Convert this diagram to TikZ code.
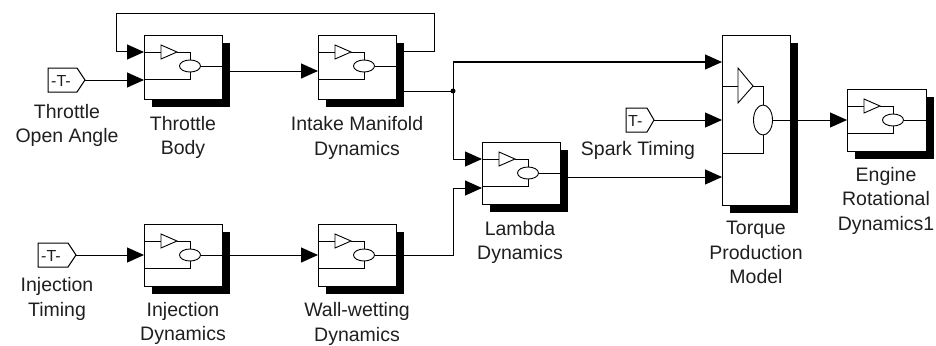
\documentclass[tikz,border=0pt]{standalone}
\usepackage{fontspec}
\setmainfont{Liberation Sans}
\usetikzlibrary{arrows.meta,calc}

\tikzset{
  wire/.style={line width=1pt, line join=miter},
  sig/.style={wire, -{Triangle[length=17pt,width=15pt]}},
  blk/.style={draw, line width=1.1pt, fill=white, inner sep=0pt, anchor=north west},
  shadowbox/.style={fill=black},
  icon/.style={line width=0.9pt},
  lbl/.style={font=\fontsize{19.5}{24.5}\selectfont, align=center, inner sep=0pt, anchor=north, text=black!88},
  tagtext/.style={font=\fontsize{16}{16}\selectfont, inner sep=0pt, anchor=base west, text=black!88},
  tagbox/.style={draw, line width=1pt, fill=white},
  jdot/.style={circle, fill=black, inner sep=0pt, minimum size=5pt}
}

% subsystem block: name, left, top, width, height
\newcommand{\subsysblk}[5]{%
  \fill[shadowbox] (#2+8,#3+8) rectangle (#2+#4+8,#3+#5+8);
  \node[blk, minimum width=#4 pt, minimum height=#5 pt] (#1) at (#2,#3) {};
}
% standard icon inside a small block: left, top, width
\newcommand{\smallicon}[3]{%
  \draw[icon] (#1,#2+17) -- (#1+17,#2+17);
  \draw[icon] (#1+17,#2+10) -- (#1+33,#2+17) -- (#1+17,#2+24) -- cycle;
  \draw[icon] (#1+33,#2+17) -- (#1+46,#2+17) -- (#1+46,#2+25);
  \draw[icon] (#1+46,#2+31) ellipse [x radius=10.5, y radius=6];
  \draw[icon] (#1+56.5,#2+31) -- (#1+#3,#2+31);
  \draw[icon] (#1+46,#2+37) -- (#1+46,#2+44) -- (#1,#2+44);
}

\begin{document}
\begin{tikzpicture}[x=1pt, y=-1pt]
\useasboundingbox (0,0) rectangle (936,345);

% ---- blocks ----
\subsysblk{tb}{144}{35}{78}{64}
\smallicon{144}{35}{78}
\subsysblk{imd}{318}{35}{78}{64}
\smallicon{318}{35}{78}
\subsysblk{lam}{482}{142}{78}{62}
\smallicon{482}{142}{78}
\subsysblk{inj}{144}{224}{78}{62}
\smallicon{144}{224}{78}
\subsysblk{ww}{318}{224}{78}{62}
\smallicon{318}{224}{78}
\subsysblk{erd}{847}{89}{79}{62}
\smallicon{847}{89}{79}

% torque production block
\subsysblk{tpm}{722}{35}{68}{170}
\draw[icon] (722,86) -- (738,86);
\draw[icon] (738,68) -- (753,86) -- (738,103) -- cycle;
\draw[icon] (753,86) -- (763,86) -- (763,105);
\draw[icon] (763,120) ellipse [x radius=9.5, y radius=15];
\draw[icon] (772.5,120) -- (790,120);
\draw[icon] (763,135) -- (763,153) -- (722,153);

% ---- tags (From blocks) ----
\draw[tagbox] (48,68) -- (77,68) -- (85,80) -- (77,92) -- (48,92) -- cycle;
\node[inner sep=0pt] (toa) at (66,80) {};
\node[tagtext] at (51,86) {-T-};
\coordinate (toa-out) at (85,80);

\draw[tagbox] (38,243) -- (68,243) -- (76,255) -- (68,267) -- (38,267) -- cycle;
\node[inner sep=0pt] (it) at (57,255) {};
\node[tagtext] at (41,261) {-T-};
\coordinate (it-out) at (76,255);

\draw[tagbox] (626,108) -- (647,108) -- (654,120) -- (647,132) -- (626,132) -- cycle;
\node[inner sep=0pt] (st) at (640,120) {};
\node[tagtext] at (628,126) {T-};
\coordinate (st-out) at (654,120);

% ---- port coordinates ----
\coordinate (tb-in1) at (tb.west |- 0,52);
\coordinate (tb-in2) at (tb.west |- 0,80);
\coordinate (tb-out) at (230,71);
\coordinate (imd-in) at (imd.west |- 0,71);
\coordinate (imd-out1) at (404,52);
\coordinate (imd-out2) at (404,91);
\coordinate (lam-in1) at (lam.west |- 0,159);
\coordinate (lam-in2) at (lam.west |- 0,188);
\coordinate (lam-out) at (568,177);
\coordinate (inj-in) at (inj.west |- 0,255);
\coordinate (inj-out) at (230,255);
\coordinate (ww-in) at (ww.west |- 0,255);
\coordinate (ww-out) at (404,255);
\coordinate (tpm-in1) at (tpm.west |- 0,62);
\coordinate (tpm-in2) at (tpm.west |- 0,120);
\coordinate (tpm-in3) at (tpm.west |- 0,177);
\coordinate (tpm-out) at (798,120);
\coordinate (erd-in) at (erd.west |- 0,120);

\node[jdot] (junc) at (453,91) {};

% ---- connectors ----
\draw[sig] (toa-out) -- (tb-in2);
\draw[sig] (imd-out1) -- (434,52) -- (434,14) -- (116,14) -- (116,52) -- (tb-in1);
\draw[sig] (tb-out) -- (imd-in);
\draw[wire] (imd-out2) -- (junc.center);
\draw[sig] (junc.center) -- (453,62) -- (tpm-in1);
\draw[sig] (junc.center) -- (453,159) -- (lam-in1);
\draw[sig] (it-out) -- (inj-in);
\draw[sig] (inj-out) -- (ww-in);
\draw[sig] (ww-out) -- (453,255) -- (453,188) -- (lam-in2);
\draw[sig] (lam-out) -- (tpm-in3);
\draw[sig] (st-out) -- (tpm-in2);
\draw[sig] (tpm-out) -- (erd-in);

% ---- labels ----
\node[lbl] at (67,104) {Throttle\\Open Angle};
\node[lbl] at (183,116) {Throttle\\Body};
\node[lbl] at (357,116.5) {Intake Manifold\\Dynamics};
\node[lbl] at (520,221) {Lambda\\Dynamics};
\node[lbl] at (638,141) {Spark Timing};
\node[lbl] at (756,221) {Torque\\Production\\Model};
\node[lbl] at (886,167) {Engine\\Rotational\\Dynamics1};
\node[lbl] at (57,277.5) {Injection\\Timing};
\node[lbl] at (183,302) {Injection\\Dynamics};
\node[lbl] at (357,302.5) {Wall-wetting\\Dynamics};
\end{tikzpicture}
\end{document}
